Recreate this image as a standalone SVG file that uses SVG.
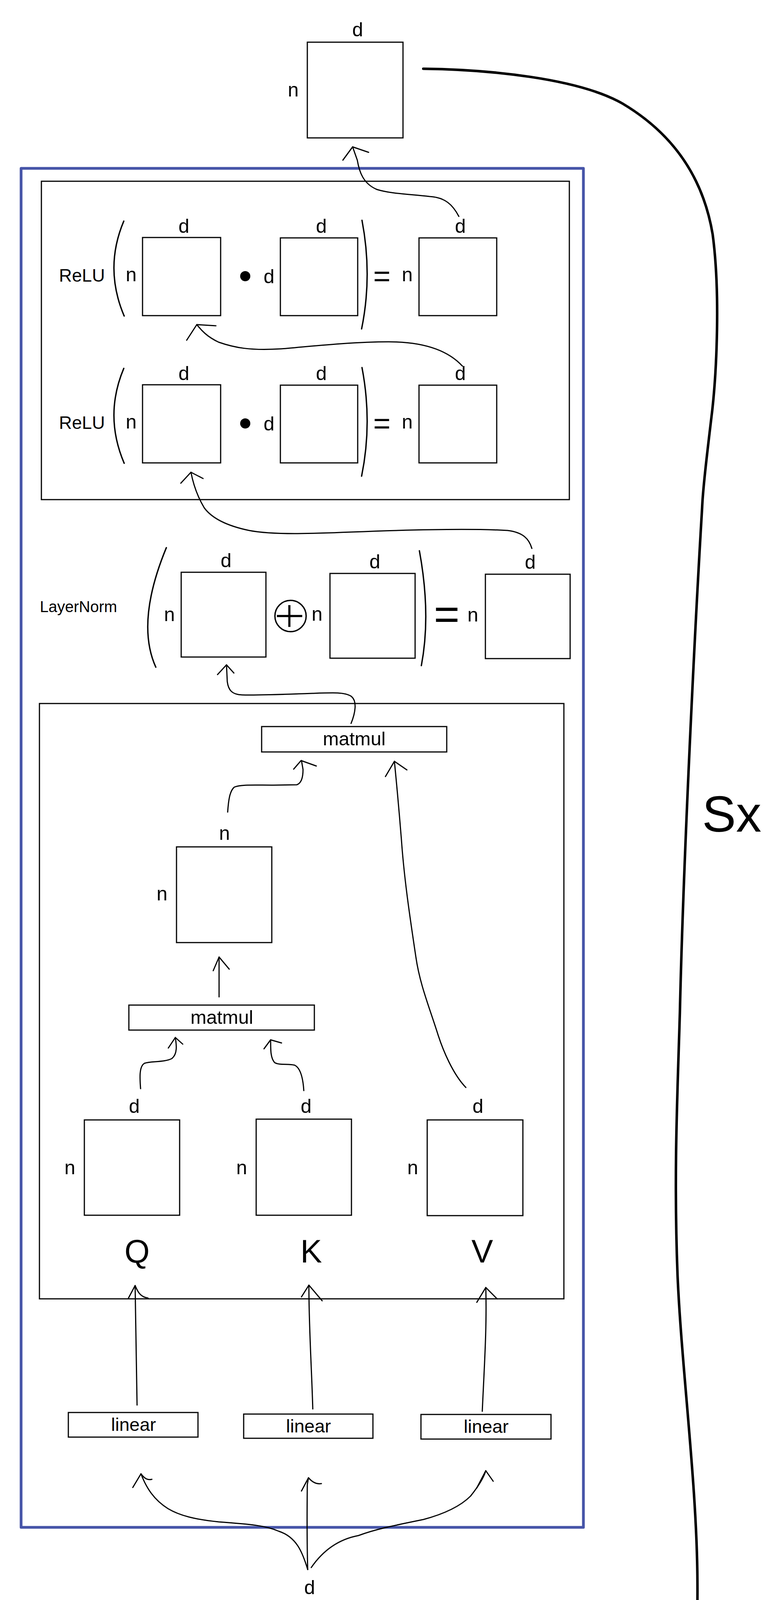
<svg xmlns="http://www.w3.org/2000/svg" width="2000" height="4960" viewBox="0 0 2000 4960">
<style>
.bg{fill:#fff}
.box{fill:none;stroke:#000;stroke-width:3}
.frame{fill:none;stroke:#000;stroke-width:3}
.blue{fill:none;stroke:#4654a8;stroke-width:7;stroke-linejoin:round}
.conn{fill:none;stroke:#000;stroke-width:3;stroke-linecap:round;stroke-linejoin:round}
.big{fill:none;stroke:#000;stroke-width:6.5;stroke-linecap:round;stroke-linejoin:round}
.paren{fill:none;stroke:#000;stroke-width:3.5;stroke-linecap:round}
.oplus{fill:none;stroke:#000;stroke-width:3.5}
.plus{fill:none;stroke:#000;stroke-width:5.5}
text{font-family:"Liberation Sans",Arial,Helvetica,sans-serif;fill:#000}
.lbl{font-size:50px;text-anchor:middle}
.op{font-size:46px}
.mid{text-anchor:middle}
</style>
<rect class="bg" x="0" y="0" width="2000" height="4960"/>

<g id="transformer-block">
<rect class="blue" x="54" y="431" width="1440" height="3479"/>
</g>

<g id="ffn-block">
<rect class="frame" x="106" y="464" width="1352" height="815"/>
</g>

<g id="attention-block">
<rect class="frame" x="101" y="1801" width="1343" height="1524"/>
</g>

<g id="output">
<rect class="box" x="787" y="108" width="245" height="245"/>
<text class="lbl" x="916" y="93">d</text>
<text class="lbl" x="751" y="247">n</text>
</g>

<g id="relu-row-1">
<text class="op" x="151" y="721">ReLU</text>
<path class="paren" d="M317,566 Q266,687 318,809"/>
<path class="paren" d="M927,564 Q954,705 926,842"/>
<text class="lbl" x="336" y="720">n</text>
<rect class="box" x="365" y="608" width="200" height="200"/>
<text class="lbl" x="471" y="596">d</text>
<circle cx="628" cy="707" r="13" fill="#000"/>
<text class="lbl" x="689" y="725">d</text>
<rect class="box" x="718" y="609" width="198" height="199"/>
<text class="lbl" x="823" y="596">d</text>
<text class="mid" x="978" y="733" font-size="76">=</text>
<text class="lbl" x="1043" y="720">n</text>
<rect class="box" x="1073" y="609" width="199" height="199"/>
<text class="lbl" x="1179" y="596">d</text>
</g>

<g id="relu-row-2">
<text class="op" x="151" y="1098">ReLU</text>
<path class="paren" d="M317,943 Q266,1064 318,1186"/>
<path class="paren" d="M927,941 Q954,1082 926,1219"/>
<text class="lbl" x="336" y="1097">n</text>
<rect class="box" x="365" y="985" width="200" height="200"/>
<text class="lbl" x="471" y="973">d</text>
<circle cx="628" cy="1084" r="13" fill="#000"/>
<text class="lbl" x="689" y="1102">d</text>
<rect class="box" x="718" y="986" width="198" height="199"/>
<text class="lbl" x="823" y="973">d</text>
<text class="mid" x="978" y="1110" font-size="76">=</text>
<text class="lbl" x="1043" y="1097">n</text>
<rect class="box" x="1073" y="986" width="199" height="199"/>
<text class="lbl" x="1179" y="973">d</text>
</g>

<g id="layernorm-row">
<text x="102" y="1567" font-size="40">LayerNorm</text>
<path class="paren" d="M426,1402 Q347,1593 399,1708"/>
<path class="paren" d="M1074,1410 Q1104,1573 1079,1704"/>
<text class="lbl" x="434" y="1590">n</text>
<rect class="box" x="464" y="1465" width="217" height="217"/>
<text class="lbl" x="579" y="1452">d</text>
<g id="oplus">
<circle class="oplus" cx="744" cy="1577" r="40"/>
<path class="plus" d="M709,1577 L774,1577 M741,1549 L741,1605"/>
</g>
<text class="lbl" x="812" y="1589">n</text>
<rect class="box" x="845" y="1468" width="218" height="217"/>
<text class="lbl" x="960" y="1455">d</text>
<text class="mid" x="1144" y="1611" font-size="113">=</text>
<text class="lbl" x="1211" y="1591">n</text>
<rect class="box" x="1243" y="1470" width="217" height="216"/>
<text class="lbl" x="1358" y="1456">d</text>
</g>

<g id="matmul-top">
<rect class="box" x="670" y="1860" width="474" height="65"/>
<text class="mid" x="907" y="1908" font-size="49">matmul</text>
</g>

<g id="scores">
<rect class="box" x="452" y="2168" width="244" height="245"/>
<text class="lbl" x="575" y="2150">n</text>
<text class="lbl" x="415" y="2305">n</text>
</g>

<g id="matmul-bottom">
<rect class="box" x="330" y="2573" width="475" height="64"/>
<text class="mid" x="568" y="2621" font-size="49">matmul</text>
</g>

<g id="Q">
<rect class="box" x="216" y="2867" width="244" height="244"/>
<text class="lbl" x="344" y="2849">d</text>
<text class="lbl" x="179" y="3006">n</text>
<text class="mid" x="351" y="3232" font-size="83">Q</text>
</g>
<g id="K">
<rect class="box" x="656" y="2865" width="244" height="246"/>
<text class="lbl" x="784" y="2849">d</text>
<text class="lbl" x="619" y="3006">n</text>
<text class="mid" x="797" y="3232" font-size="83">K</text>
</g>
<g id="V">
<rect class="box" x="1094" y="2867" width="245" height="245"/>
<text class="lbl" x="1224" y="2849">d</text>
<text class="lbl" x="1057" y="3006">n</text>
<text class="mid" x="1235" y="3232" font-size="83">V</text>
</g>

<g id="linear-q">
<rect class="box" x="175" y="3616" width="332" height="63"/>
<text class="mid" x="342" y="3663" font-size="47">linear</text>
</g>
<g id="linear-k">
<rect class="box" x="624" y="3620" width="331" height="62"/>
<text class="mid" x="790" y="3667" font-size="47">linear</text>
</g>
<g id="linear-v">
<rect class="box" x="1078" y="3621" width="333" height="63"/>
<text class="mid" x="1245" y="3668" font-size="47">linear</text>
</g>

<g id="input">
<rect class="box" x="666" y="4098" width="245" height="246"/>
<text class="lbl" x="793" y="4081">d</text>
<text class="lbl" x="628" y="4236">n</text>
<text class="mid" x="788" y="4420" font-size="75">Input</text>
</g>

<g id="sx-label">
<text x="1798" y="2129" font-size="130">Sx</text>
</g>

<g id="connectors">
<path class="conn" d="M1175,554 C1160,525 1140,505 1100,503 C1050,497 1000,496 965,485 C930,470 920,440 915,410 L903,376"/>
<path class="conn" d="M878,410 L903,376 L944,390"/>
<path class="conn" d="M1184,937 C1150,900 1090,875 995,875 C900,875 780,888 720,893 C640,898 600,890 560,876 C530,862 515,845 504,831"/>
<path class="conn" d="M478,871 L504,831 L553,834"/>
<path class="conn" d="M1362,1404 C1355,1380 1340,1363 1300,1358 C1200,1352 1050,1356 900,1362 C800,1366 700,1370 638,1358 C590,1348 545,1330 523,1300 C505,1270 495,1240 489,1209"/>
<path class="conn" d="M463,1237 L489,1209 L520,1225"/>
<path class="conn" d="M899,1852 C910,1825 915,1795 900,1783 C885,1772 860,1773 800,1775 C720,1778 650,1780 620,1779 C595,1778 585,1768 582,1745 L580,1702"/>
<path class="conn" d="M557,1727 L580,1702 L599,1723"/>
<path class="conn" d="M583,2079 C585,2050 588,2025 600,2015 C615,2008 650,2010 700,2010 L760,2009 C772,2005 776,1990 776,1970 L772,1947"/>
<path class="conn" d="M752,1969 L771,1947 L810,1961"/>
<path class="conn" d="M1193,2784 C1160,2750 1135,2690 1122,2650 C1100,2580 1075,2520 1065,2450 C1050,2350 1035,2250 1028,2150 C1020,2050 1015,2000 1010,1949"/>
<path class="conn" d="M987,1988 L1010,1949 L1042,1971"/>
<path class="conn" d="M561,2552 L561,2450"/>
<path class="conn" d="M546,2485 L561,2450 L587,2481"/>
<path class="conn" d="M360,2787 C358,2760 356,2730 370,2722 C385,2716 420,2720 440,2710 C455,2698 452,2675 449,2656"/>
<path class="conn" d="M431,2683 L449,2656 L468,2673"/>
<path class="conn" d="M778,2792 C776,2760 770,2735 755,2727 C740,2722 715,2728 703,2720 C693,2708 693,2690 693,2662"/>
<path class="conn" d="M676,2685 L693,2662 L721,2670"/>
<path class="conn" d="M351,3597 L346,3291"/>
<path class="conn" d="M329,3323 L346,3291 C352,3305 358,3320 379,3323"/>
<path class="conn" d="M801,3607 C798,3500 791,3400 791,3290"/>
<path class="conn" d="M772,3320 L791,3290 L825,3330"/>
<path class="conn" d="M1235,3613 C1240,3500 1247,3400 1244,3296"/>
<path class="conn" d="M1221,3334 L1244,3296 L1273,3325"/>
<path class="conn" d="M788,4018 C775,3975 760,3935 714,3920 C680,3905 640,3902 560,3896 C500,3890 460,3880 430,3862 C395,3840 375,3810 361,3773"/>
<path class="conn" d="M340,3808 L361,3773 C370,3785 378,3790 389,3787"/>
<path class="conn" d="M788,4018 C786,3950 786,3880 787,3800 L790,3783"/>
<path class="conn" d="M772,3817 L790,3783 C800,3795 810,3800 823,3798"/>
<path class="conn" d="M797,4013 C830,3965 870,3940 918,3931 C960,3915 1010,3905 1084,3890 C1140,3875 1180,3855 1205,3830 C1225,3805 1238,3785 1244,3765"/>
<path class="conn" d="M1221,3809 L1244,3765 L1263,3792"/>
<path class="big" d="M1084,176 C1250,178 1480,200 1594,265 C1720,340 1800,450 1825,600 C1845,750 1835,950 1824,1050 C1812,1150 1800,1250 1798,1300 C1780,1600 1750,2200 1741,2593 C1735,2800 1725,3000 1735,3263 C1745,3500 1785,3800 1786,4050 C1788,4300 1760,4450 1709,4540 C1650,4660 1560,4760 1467,4828 C1370,4880 1260,4906 1154,4906 C1060,4906 960,4870 918,4821 C870,4750 840,4650 829,4551"/>
<path class="big" d="M812,4606 L829,4551 L864,4590"/>
</g>
</svg>
